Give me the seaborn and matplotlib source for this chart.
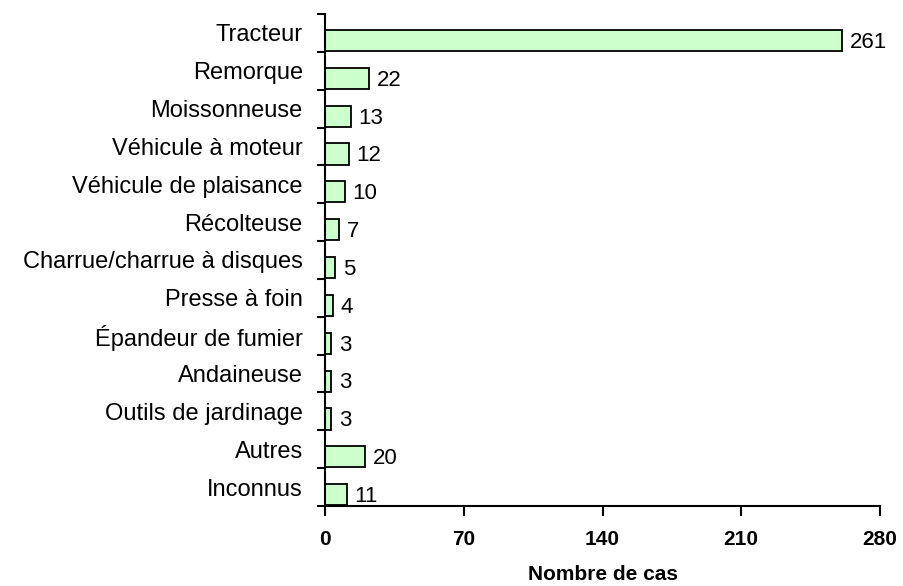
import matplotlib
matplotlib.use("Agg")
import matplotlib.pyplot as plt
import seaborn as sns
import pandas as pd
import numpy as np
from matplotlib.ticker import FixedLocator

categories = ["Tracteur", "Remorque", "Moissonneuse", "Véhicule à moteur",
              "Véhicule de plaisance", "Récolteuse", "Charrue/charrue à disques",
              "Presse à foin", "Épandeur de fumier", "Andaineuse",
              "Outils de jardinage", "Autres", "Inconnus"]
values = [261, 22, 13, 12, 10, 7, 5, 4, 3, 3, 3, 20, 11]
xticks = [0, 70, 140, 210, 280]
xlabel = "Nombre de cas"

df = pd.DataFrame({"cat": categories, "val": values})

sns.set_style("white")
plt.rcParams["font.family"] = ["Liberation Sans", "DejaVu Sans"]
plt.rcParams["text.color"] = "black"
plt.rcParams["xtick.color"] = "black"
plt.rcParams["ytick.color"] = "black"
plt.rcParams["axes.labelcolor"] = "black"

fig = plt.figure(figsize=(9.04, 5.86), dpi=100)
ax = fig.add_axes([325/904, 1-506/586, (880-325)/904, (506-14)/586])

sns.barplot(data=df, x="val", y="cat", orient="h", color="#CCFFCC",
            edgecolor="black", linewidth=1.3, width=0.56, saturation=1, ax=ax)

n = len(categories)
off = 0.20
ax.set_xlim(0, 280)
ax.set_ylim(n - 1 + 0.5 - off, -0.5 - off)
ax.set_yticks(np.arange(n) - off)
ax.set_yticklabels(categories, fontsize=17, color="black")
ax.set_xticks(xticks)
ax.set_xticklabels([str(t) for t in xticks], fontsize=15, fontweight="bold")
ax.set_xlabel(xlabel, fontsize=15, fontweight="bold", labelpad=12)
ax.set_ylabel("")
ax.tick_params(axis="y", which="major", length=0, pad=16)
ax.yaxis.set_minor_locator(FixedLocator(np.arange(-0.5 - off, n, 1.0)))
ax.tick_params(axis="y", which="minor", length=6, width=1.5, direction="out", left=True)
ax.tick_params(axis="x", which="major", length=7, width=1.5, direction="out", bottom=True, pad=10)

for s in ["top", "right"]:
    ax.spines[s].set_visible(False)
for s in ["left", "bottom"]:
    ax.spines[s].set_linewidth(1.5)
    ax.spines[s].set_color("black")

for i, v in enumerate(values):
    ax.text(v + 4, i + 0.05, str(v), va="center", ha="left", fontsize=16)

fig.savefig("out.png", dpi=100)
